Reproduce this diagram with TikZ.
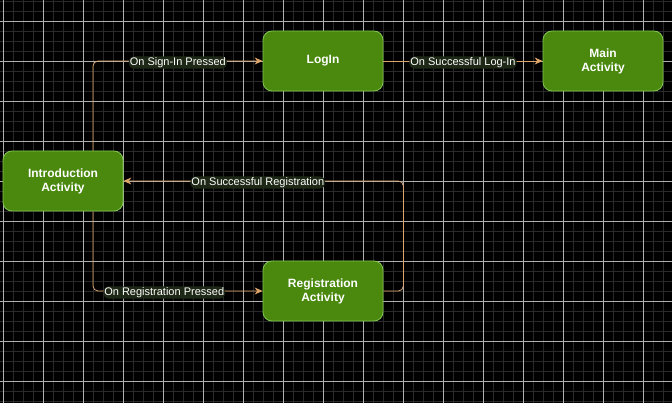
\documentclass[tikz,border=0pt]{standalone}
\usepackage{fontspec}
\setmainfont{Liberation Sans}
\usetikzlibrary{arrows.meta}

\definecolor{actfill}{RGB}{74,137,14}
\definecolor{actline}{RGB}{130,200,80}
\definecolor{flowcol}{RGB}{222,165,105}
\definecolor{lblbg}{RGB}{30,40,22}
\definecolor{minorln}{RGB}{42,42,42}
\definecolor{majorln}{RGB}{175,175,175}

\tikzset{
  activity/.style={draw=actline, fill=actfill, line width=0.8pt,
    rounded corners=9pt, minimum width=120pt, minimum height=60pt,
    text=white, align=center, font=\bfseries\fontsize{12}{14}\selectfont},
  flow/.style={draw=flowcol, line width=0.8pt, rounded corners=5pt,
    -{Stealth[length=8pt,width=7pt]}},
  lbl/.style={fill=lblbg, text=white, inner sep=1pt, yshift=-1.5pt,
    font=\fontsize{11}{12}\selectfont},
  minorgrid/.style={minorln, line width=0.5pt},
  majorgrid/.style={majorln, line width=0.5pt}
}

\begin{document}
\begin{tikzpicture}[x=1pt,y=-1pt]
\fill[black] (0,0) rectangle (672,403);
\useasboundingbox (0,0) rectangle (672,403);

% grid
\foreach \gx in {3,13,...,663} \draw[minorgrid] (\gx,0) -- (\gx,403);
\foreach \gy in {1,11,...,401} \draw[minorgrid] (0,\gy) -- (672,\gy);
\foreach \gx in {3,43,...,643} \draw[majorgrid] (\gx,0) -- (\gx,403);
\foreach \gy in {21,61,...,381} \draw[majorgrid] (0,\gy) -- (672,\gy);

% activities
\node[activity] (intro) at (63,181) {Introduction\\Activity};
\node[activity] (login) at (323,61) {LogIn};
\node[activity] (main) at (603,61) {Main\\Activity};
\node[activity] (reg) at (323,291) {Registration\\Activity};

% transitions
\draw[flow] ([xshift=30pt]intro.north) |- node[lbl, pos=0.75] {On Sign-In Pressed} (login.west);
\draw[flow] (login) -- node[lbl] {On Successful Log-In} (main);
\draw[flow] (reg.east) -- ++(20,0) |- node[lbl, pos=0.76] {On Successful Registration} (intro.east);
\draw[flow] ([xshift=30pt]intro.south) |- node[lbl, pos=0.71] {On Registration Pressed} (reg.west);
\end{tikzpicture}
\end{document}
